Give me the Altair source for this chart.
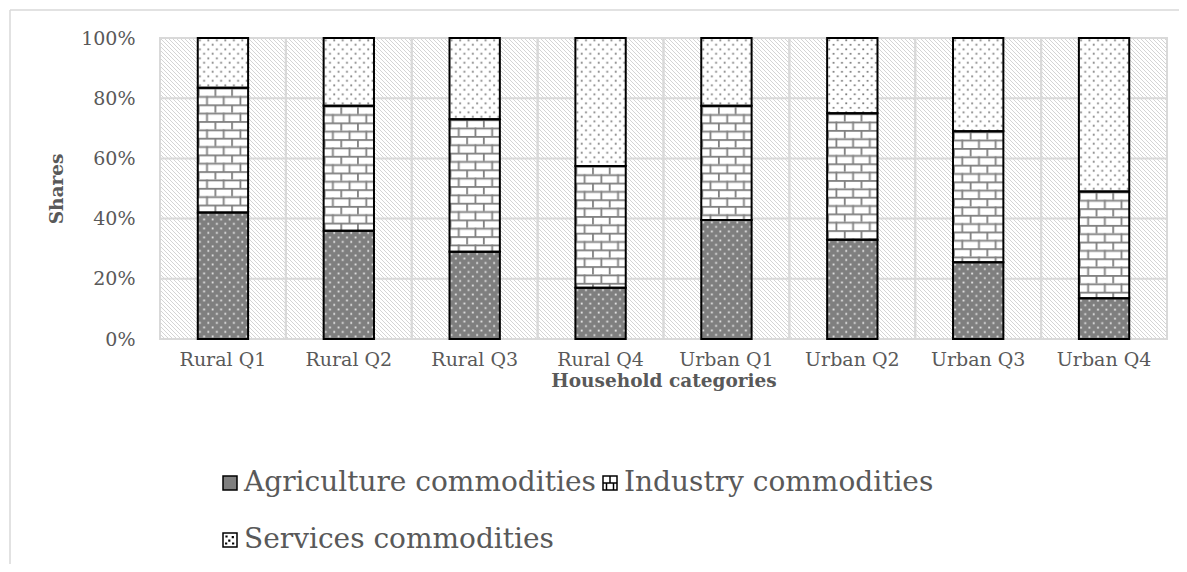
import base64
import altair as alt
import pandas as pd

# ---------------- data ----------------
categories = ["Rural Q1", "Rural Q2", "Rural Q3", "Rural Q4",
              "Urban Q1", "Urban Q2", "Urban Q3", "Urban Q4"]
series = ["Agriculture commodities", "Industry commodities", "Services commodities"]
agriculture = [0.42, 0.36, 0.29, 0.17, 0.395, 0.33, 0.255, 0.135]
industry = [0.415, 0.415, 0.44, 0.405, 0.38, 0.42, 0.435, 0.355]
services = [0.165, 0.225, 0.27, 0.425, 0.225, 0.25, 0.31, 0.51]
y_ticks = [0, 0.2, 0.4, 0.6, 0.8, 1.0]

rows = []
for i, c in enumerate(categories):
    for k, (s, vals) in enumerate(zip(series, [agriculture, industry, services])):
        rows.append({"category": c, "series": s, "order": k, "share": vals[i]})
df = pd.DataFrame(rows)

# ---------------- style ----------------
W, H = 1007, 301
FONT = "DejaVu Serif"
TEXT = "#595959"
GRID = "#d9d9d9"


def svg_url(body):
    svg = ('<svg xmlns="http://www.w3.org/2000/svg" width="100%" height="100%">'
           + body + '</svg>')
    return "data:image/svg+xml;base64," + base64.b64encode(svg.encode()).decode()


def dots(bg, fg):
    return svg_url(
        '<defs><pattern id="p" width="8.5" height="9" patternUnits="userSpaceOnUse">'
        f'<rect width="8.5" height="9" fill="{bg}"/>'
        f'<rect x="1.2" y="1.4" width="1.8" height="1.8" fill="{fg}"/>'
        f'<rect x="5.45" y="5.9" width="1.8" height="1.8" fill="{fg}"/>'
        '</pattern></defs><rect width="100%" height="100%" fill="url(#p)"/>')


brick = svg_url(
    '<defs><pattern id="p" width="16.7" height="16.7" patternUnits="userSpaceOnUse">'
    '<rect width="16.7" height="16.7" fill="#ffffff"/>'
    '<rect x="0" y="0" width="16.7" height="1.8" fill="#808080"/>'
    '<rect x="0" y="8.35" width="16.7" height="1.8" fill="#808080"/>'
    '<rect x="0" y="0" width="1.8" height="8.35" fill="#808080"/>'
    '<rect x="8.35" y="8.35" width="1.8" height="8.35" fill="#808080"/>'
    '</pattern></defs><rect width="100%" height="100%" fill="url(#p)"/>')

hatch = svg_url(
    '<defs><pattern id="p" width="4" height="4" patternUnits="userSpaceOnUse">'
    '<rect width="4" height="4" fill="#ffffff"/>'
    '<rect x="0" y="0" width="1" height="1" fill="#d4d4d4"/>'
    '<rect x="1" y="1" width="1" height="1" fill="#d4d4d4"/>'
    '<rect x="2" y="2" width="1" height="1" fill="#d4d4d4"/>'
    '<rect x="3" y="3" width="1" height="1" fill="#d4d4d4"/>'
    '</pattern></defs><rect width="100%" height="100%" fill="url(#p)"/>')

pattern_urls = [dots("#7f7f7f", "#e8e8e8"), brick, dots("#ffffff", "#7f7f7f")]

legend_shapes = [
    "M-1,-1H1V1H-1Z",
    "M-1,-1H1V1H-1Z M-1,0H1 M0,-1V0 M-0.5,0V1 M0.5,0V1",
    "M-1,-1H1V1H-1Z M-0.55,-0.55h0.1v0.1h-0.1Z M0.35,-0.45h0.1v0.1h-0.1Z "
    "M-0.15,0.05h0.1v0.1h-0.1Z M-0.6,0.45h0.1v0.1h-0.1Z M0.4,0.45h0.1v0.1h-0.1Z",
]

x_scale = alt.Scale(domain=categories, paddingInner=0.6, paddingOuter=0.3)
y_scale = alt.Scale(domain=[0, 1], nice=False)

x_enc = alt.X("category:N", scale=x_scale, sort=categories,
              axis=alt.Axis(title="Household categories", labelAngle=0,
                            labelFont=FONT, labelFontSize=19, labelColor=TEXT,
                            labelPadding=11, ticks=False, domain=False, grid=False,
                            titleFont=FONT, titleFontSize=18.5, titleFontWeight="bold",
                            titleColor=TEXT, titlePadding=2))

legend = alt.Legend(orient="none", legendX=56, legendY=431, columns=2,
                    direction="horizontal", title=None, symbolSize=196,
                    symbolStrokeColor="black", symbolStrokeWidth=1.5,
                    labelFont=FONT, labelFontSize=28, labelColor=TEXT,
                    labelOffset=0, rowPadding=29, columnPadding=-8, labelLimit=0)

# ---------------- layers ----------------
one = alt.Data(values=[{"k": 1}])
frame_left = alt.Chart(one).mark_rule(color=GRID, strokeWidth=1.5).encode(
    x=alt.value(-150), y=alt.value(-28), y2=alt.value(H + 400))
frame_top = alt.Chart(one).mark_rule(color=GRID, strokeWidth=1.5).encode(
    y=alt.value(-28), x=alt.value(-150), x2=alt.value(W + 12))

background = alt.Chart(one).mark_image(aspect=False).encode(
    x=alt.value(0), x2=alt.value(W), y=alt.value(0), y2=alt.value(H),
    url=alt.value(hatch))

hgrid = alt.Chart(alt.Data(values=[{"v": v} for v in y_ticks])).mark_rule(
    color=GRID, strokeWidth=2
).encode(y=alt.Y("v:Q", scale=y_scale,
                 axis=alt.Axis(values=y_ticks, format=".0%", title="Shares",
                               labelFont=FONT, labelFontSize=19, labelColor=TEXT,
                               labelPadding=25, ticks=False, domain=False, grid=False,
                               titleFont=FONT, titleFontSize=18.5, titleFontWeight="bold",
                               titleColor=TEXT, titlePadding=14)))

vgrid = alt.Chart(alt.Data(values=[{"category": c} for c in categories])).mark_bar(
    fill="transparent", stroke=GRID, strokeWidth=2,
    width=alt.RelativeBandSize(2.5)
).encode(x=x_enc, y=alt.Y(datum=0, scale=y_scale), y2=alt.Y2(datum=1))

base = alt.Chart(df).transform_stack(
    stack="share", groupby=["category"], as_=["y0", "y1"],
    sort=[alt.SortField("order", order="ascending")]
)

points = base.transform_calculate(mid="(datum.y0 + datum.y1) / 2").mark_point(
    filled=True, size=30, opacity=1
).encode(
    x=x_enc,
    y=alt.Y("mid:Q", scale=y_scale),
    color=alt.Color("series:N", scale=alt.Scale(domain=series,
                    range=["#7f7f7f", "#ffffff", "#ffffff"]), legend=legend),
    shape=alt.Shape("series:N", scale=alt.Scale(domain=series, range=legend_shapes),
                    legend=legend),
)

images = []
for s, url in zip(series, pattern_urls):
    images.append(
        base.transform_filter(alt.datum.series == s).mark_image(aspect=False).encode(
            x=x_enc, y=alt.Y("y1:Q", scale=y_scale), y2="y0:Q", url=alt.value(url))
    )

outline = base.mark_bar(fill="transparent", stroke="black", strokeWidth=2).encode(
    x=x_enc, y=alt.Y("y1:Q", scale=y_scale), y2="y0:Q")

chart = alt.layer(frame_left, frame_top, background, hgrid, vgrid, points, *images,
                  outline).properties(
    width=W, height=H,
    autosize=alt.AutoSizeParams(type="none"),
    padding={"left": 152, "top": 30, "right": 12, "bottom": 225},
).configure_view(stroke="transparent").configure(background="white")

chart.save("out.html", embed_options={"renderer": "svg", "actions": False})
